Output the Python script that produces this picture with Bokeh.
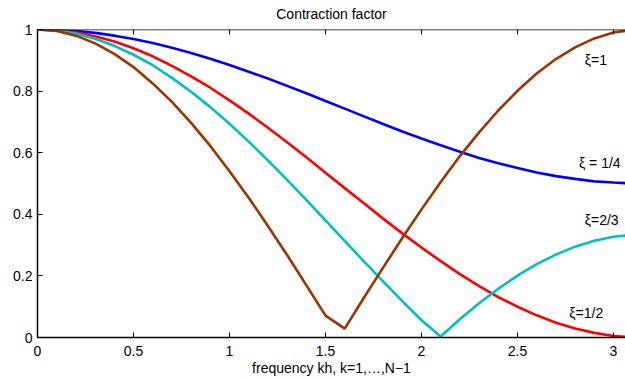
from bokeh.plotting import figure
from bokeh.models import LinearAxis, FixedTicker, Range1d, Label
from bokeh.embed import file_html
from bokeh.resources import INLINE

# frequency kh
freq = [0.0, 0.1, 0.2, 0.3, 0.4, 0.5, 0.6, 0.7, 0.8, 0.9, 1.0, 1.1, 1.2, 1.3, 1.4, 1.5,
        1.6, 1.7, 1.8, 1.9, 2.0, 2.1, 2.2, 2.3, 2.4, 2.5, 2.6, 2.7, 2.8, 2.9, 3.0, 3.1]

xi_quarter = [1.0, 0.999, 0.995, 0.989, 0.980, 0.969, 0.956, 0.941, 0.924, 0.905, 0.885,
              0.863, 0.841, 0.817, 0.793, 0.768, 0.743, 0.718, 0.693, 0.669, 0.646, 0.624,
              0.603, 0.583, 0.566, 0.550, 0.536, 0.524, 0.515, 0.507, 0.503, 0.500]
xi_half = [1.0, 0.998, 0.990, 0.978, 0.961, 0.939, 0.913, 0.882, 0.848, 0.811, 0.770,
           0.727, 0.681, 0.634, 0.585, 0.535, 0.485, 0.436, 0.386, 0.338, 0.292, 0.248,
           0.206, 0.167, 0.131, 0.100, 0.072, 0.048, 0.029, 0.015, 0.005, 0.000]
xi_twothirds = [1.0, 0.997, 0.987, 0.970, 0.947, 0.918, 0.884, 0.843, 0.798, 0.748, 0.694,
                0.636, 0.575, 0.512, 0.447, 0.380, 0.314, 0.247, 0.182, 0.118, 0.056, 0.003,
                0.059, 0.111, 0.158, 0.201, 0.238, 0.269, 0.295, 0.314, 0.327, 0.333]
xi_one = [1.0, 0.995, 0.980, 0.955, 0.921, 0.878, 0.825, 0.765, 0.697, 0.622, 0.540,
          0.454, 0.362, 0.268, 0.170, 0.071, 0.029, 0.129, 0.227, 0.323, 0.416, 0.505,
          0.589, 0.666, 0.737, 0.801, 0.857, 0.904, 0.942, 0.971, 0.990, 0.999]

series = [xi_quarter, xi_half, xi_twothirds, xi_one]
colors = ["#0000FF", "#FF0000", "#00BFBF", "#9E3300"]

curve_labels = ["\u03be = 1/4", "\u03be=1/2", "\u03be=2/3", "\u03be=1"]
label_x = [2.82, 2.77, 2.85, 2.85]
label_y = [0.565, 0.078, 0.38, 0.90]

x_ticks = [0, 0.5, 1, 1.5, 2, 2.5, 3]
x_tick_labels = ["0", "0.5", "1", "1.5", "2", "2.5", "3"]
y_ticks = [0, 0.2, 0.4, 0.6, 0.8, 1]
y_tick_labels = ["0", "0.2", "0.4", "0.6", "0.8", "1"]

FONT = "Liberation Sans"
FS = "14px"

p = figure(width=625, height=381, output_backend="svg", toolbar_location=None,
           title="Contraction factor",
           x_range=Range1d(0, 3.0625), y_range=Range1d(0, 1),
           x_axis_location=None, y_axis_location=None,
           min_border_left=37, min_border_right=0, min_border_top=0, min_border_bottom=44)
p.title.align = "center"
p.title.vertical_align = "top"
p.title.text_font = FONT
p.title.text_font_size = FS
p.title.text_font_style = "normal"
p.title.text_color = "black"
p.title.offset = 0
p.title.standoff = 11
p.outline_line_color = None
p.grid.visible = False
p.background_fill_color = "white"
p.border_fill_color = "white"

def style_axis(ax, ticks, labels, standoff):
    ax.ticker = FixedTicker(ticks=ticks)
    ax.major_label_overrides = {t: l for t, l in zip(ticks, labels)}
    ax.major_tick_in = 5
    ax.major_tick_out = 0
    ax.minor_tick_line_color = None
    ax.axis_line_color = "black"
    ax.axis_line_width = 1.5
    ax.major_tick_line_color = "black"
    ax.major_label_text_font = FONT
    ax.major_label_text_font_size = FS
    ax.major_label_text_color = "black"
    ax.major_label_standoff = standoff

bottom = LinearAxis()
style_axis(bottom, x_ticks, x_tick_labels, 8)
bottom.axis_label = "frequency kh, k=1,\u2026,N\u22121"
bottom.axis_label_text_font = FONT
bottom.axis_label_text_font_size = FS
bottom.axis_label_text_font_style = "normal"
bottom.axis_label_text_color = "black"
bottom.axis_label_standoff = 1
p.add_layout(bottom, "below")

left = LinearAxis()
style_axis(left, y_ticks, y_tick_labels, 5)
p.add_layout(left, "left")

for s, c in zip(series, colors):
    p.line(freq, s, line_color=c, line_width=2.6)

for t, lx, ly in zip(curve_labels, label_x, label_y):
    p.add_layout(Label(x=lx, y=ly, text=t, text_font=FONT, text_font_size=FS,
                       text_baseline="middle", text_align="left", text_color="black"))

# top frame line with inward ticks
p.segment(x0=[0], y0=[1], x1=[3.0625], y1=[1], line_color="black", line_width=1.5)
p.segment(x0=x_ticks, y0=[1] * len(x_ticks), x1=x_ticks, y1=[1 - 5 / 308] * len(x_ticks),
          line_color="black", line_width=1)

open("out.html", "w").write(file_html(p, INLINE))
